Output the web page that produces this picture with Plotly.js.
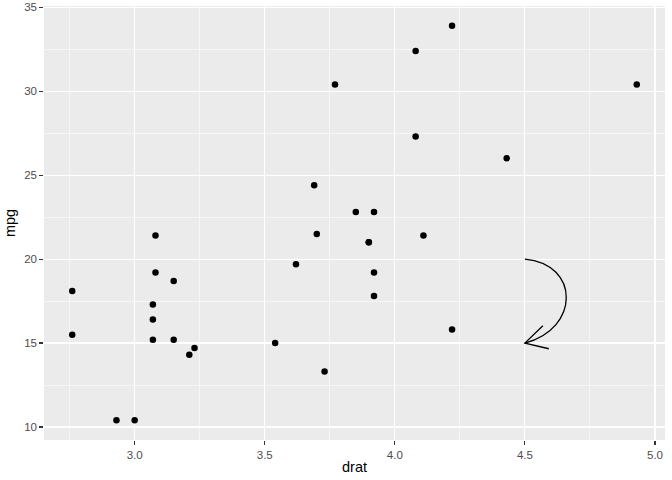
<!DOCTYPE html>
<html><head><meta charset="utf-8">
<script src="https://cdn.plot.ly/plotly-3.0.1.min.js"></script>
<style>html,body{margin:0;padding:0;background:#fff}#chart{width:672px;height:480px}</style>
</head><body><div id="chart"></div>
<script>
// mtcars: drat vs mpg
const drat = [3.90,3.90,3.85,3.08,3.15,2.76,3.21,3.69,3.92,3.92,3.92,3.07,3.07,3.07,2.93,3.00,3.23,4.08,4.93,4.22,3.70,2.76,3.15,3.73,3.08,4.08,4.43,3.77,4.22,3.62,3.54,4.11];
const mpg  = [21.0,21.0,22.8,21.4,18.7,18.1,14.3,24.4,22.8,19.2,17.8,16.4,17.3,15.2,10.4,10.4,14.7,32.4,30.4,33.9,21.5,15.5,15.2,13.3,19.2,27.3,26.0,30.4,15.8,19.7,15.0,21.4];
const xTicks = [3.0,3.5,4.0,4.5,5.0];
const xTickText = ["3.0","3.5","4.0","4.5","5.0"];
const yTicks = [10,15,20,25,30,35];
const yTickText = ["10","15","20","25","30","35"];
// curved arrow annotation: start, end, control points, arrowhead arms
const curveStart = [4.5, 20];
const curveEnd = [4.5, 15];
const curveCtrl1 = [4.712, 19.7];
const curveCtrl2 = [4.712, 15.85];
const arm1 = [4.569, 16.03];
const arm2 = [4.592, 14.66];

const xr = [Math.min(...drat), Math.max(...drat)];
const yr = [Math.min(...mpg), Math.max(...mpg)];
const xe = (xr[1]-xr[0])*0.05, ye = (yr[1]-yr[0])*0.05;

const p = a => a[0] + ',' + a[1];
const curvePath = 'M ' + p(curveStart) + ' C ' + p(curveCtrl1) + ' ' + p(curveCtrl2) + ' ' + p(curveEnd);
const headPath = 'M ' + p(arm1) + ' L ' + p(curveEnd) + ' L ' + p(arm2);

const data = [{
  type: 'scatter', mode: 'markers', x: drat, y: mpg,
  marker: {color: '#000000', size: 6.5}, hoverinfo: 'x+y'
}];
const tickFont = {family: 'Liberation Sans, Arial, sans-serif', size: 11.5, color: '#4D4D4D'};
const titleFont = {family: 'Liberation Sans, Arial, sans-serif', size: 14.5, color: '#000000'};
const layout = {
  width: 672, height: 480,
  margin: {l: 44, r: 7, t: 6, b: 40},
  paper_bgcolor: '#FFFFFF', plot_bgcolor: '#EBEBEB',
  showlegend: false,
  xaxis: {
    range: [xr[0]-xe, xr[1]+xe], tickmode: 'array', tickvals: xTicks, ticktext: xTickText,
    showgrid: true, gridcolor: '#FFFFFF', gridwidth: 1.1, zeroline: false, showline: false,
    ticks: 'outside', ticklen: 3.7, tickwidth: 1.1, tickcolor: '#333333',
    tickfont: tickFont,
    minor: {tickmode: 'array', tickvals: [2.75,3.25,3.75,4.25,4.75], showgrid: true, gridcolor: '#FFFFFF', gridwidth: 0.55, ticks: ''},
    title: {text: 'drat', font: titleFont, standoff: 2}
  },
  yaxis: {
    range: [yr[0]-ye, yr[1]+ye], tickmode: 'array', tickvals: yTicks, ticktext: yTickText,
    showgrid: true, gridcolor: '#FFFFFF', gridwidth: 1.1, zeroline: false, showline: false,
    ticks: 'outside', ticklen: 3.7, tickwidth: 1.1, tickcolor: '#333333',
    tickfont: tickFont,
    minor: {tickmode: 'array', tickvals: [12.5,17.5,22.5,27.5,32.5], showgrid: true, gridcolor: '#FFFFFF', gridwidth: 0.55, ticks: ''},
    title: {text: 'mpg', font: titleFont, standoff: 5}
  },
  shapes: [
    {type: 'path', xref: 'x', yref: 'y', path: curvePath, line: {color: '#000000', width: 1.3}},
    {type: 'path', xref: 'x', yref: 'y', path: headPath, line: {color: '#000000', width: 1.3}}
  ]
};
Plotly.newPlot('chart', data, layout, {displayModeBar: false, staticPlot: true});
</script>
</body></html>
